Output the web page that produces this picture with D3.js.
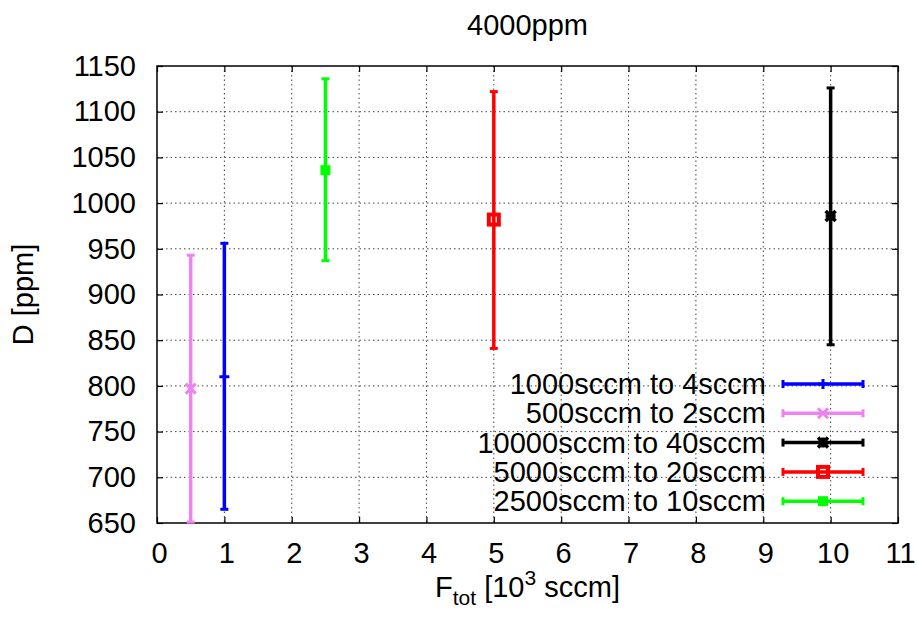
<!DOCTYPE html>
<html>
<head>
<meta charset="utf-8">
<script src="https://cdn.jsdelivr.net/npm/d3@7/dist/d3.min.js"></script>
<style>
  html, body { margin: 0; padding: 0; background: #fff; }
  svg { display: block; font-family: "Liberation Sans", Arial, sans-serif; }
</style>
</head>
<body>
<svg id="chart" width="917" height="622"></svg>
<script>
// ---- data ----
const seriesNames = ["1000sccm to 4sccm", "500sccm to 2sccm", "10000sccm to 40sccm", "5000sccm to 20sccm", "2500sccm to 10sccm"];
const seriesColors = ["#0000ff", "#ee82ee", "#000000", "#ff0000", "#00ff00"];
const seriesMarkers = ["plus", "cross", "star", "box", "filledbox"];
const xValues = [1, 0.5, 10, 5, 2.5];          // F_tot [10^3 sccm]
const yValues = [810, 797, 986, 982, 1036];     // D [ppm]
const yLow    = [665, 651, 845, 841, 937];
const yHigh   = [956, 943, 1126, 1122, 1136];
const xTicks = [0, 1, 2, 3, 4, 5, 6, 7, 8, 9, 10, 11];
const yTicks = [650, 700, 750, 800, 850, 900, 950, 1000, 1050, 1100, 1150];
const titleText = "4000ppm";

// ---- layout ----
const svg = d3.select("#chart");
const L = 157, R = 898, T = 66, B = 523;
const x = d3.scaleLinear().domain([0, 11]).range([L, R]);
const y = d3.scaleLinear().domain([650, 1150]).range([B, T]);
const FS = 29;

// grid
const grid = svg.append("g");
grid.selectAll("line.gx").data(xTicks.slice(1, -1)).join("line")
  .attr("x1", d => x(d)).attr("x2", d => x(d)).attr("y1", T).attr("y2", B)
  .attr("stroke", "#444").attr("stroke-width", 1).attr("stroke-dasharray", "1.5,3");
grid.selectAll("line.gy").data(yTicks.slice(1, -1)).join("line")
  .attr("x1", L).attr("x2", R).attr("y1", d => y(d)).attr("y2", d => y(d))
  .attr("stroke", "#444").attr("stroke-width", 1).attr("stroke-dasharray", "1.5,3");

// axes
function styleAxis(g) {
  g.select(".domain").remove();
  g.selectAll(".tick line").attr("stroke", "#000").attr("stroke-width", 1.2);
  g.selectAll(".tick text").attr("font-size", FS).attr("fill", "#000")
    .attr("font-family", "'Liberation Sans', Arial, sans-serif");
}
svg.append("g").attr("transform", `translate(0,${B})`)
  .call(d3.axisBottom(x).tickValues(xTicks).tickSizeInner(-6).tickSizeOuter(0).tickPadding(19).tickFormat(d3.format("d")))
  .call(styleAxis)
  .call(g => g.selectAll(".tick text").attr("dx", 2));
svg.append("g").attr("transform", `translate(0,${T})`)
  .call(d3.axisTop(x).tickValues(xTicks).tickSizeInner(-6).tickSizeOuter(0).tickFormat(""))
  .call(styleAxis);
svg.append("g").attr("transform", `translate(${L},0)`)
  .call(d3.axisLeft(y).tickValues(yTicks).tickSizeInner(-6).tickSizeOuter(0).tickPadding(21).tickFormat(d3.format("d")))
  .call(styleAxis);
svg.append("g").attr("transform", `translate(${R},0)`)
  .call(d3.axisRight(y).tickValues(yTicks).tickSizeInner(-6).tickSizeOuter(0).tickFormat(""))
  .call(styleAxis);

// border
svg.append("rect").attr("x", L).attr("y", T).attr("width", R - L).attr("height", B - T)
  .attr("fill", "none").attr("stroke", "#000").attr("stroke-width", 1.5);

// markers
function drawMarker(g, type, cx, cy, color) {
  const s = 5;
  if (type === "plus") {
    g.append("path").attr("d", `M${cx - s},${cy}H${cx + s}M${cx},${cy - s}V${cy + s}`)
      .attr("stroke", color).attr("stroke-width", 3).attr("fill", "none");
  } else if (type === "cross") {
    g.append("path").attr("d", `M${cx - s},${cy - s}L${cx + s},${cy + s}M${cx - s},${cy + s}L${cx + s},${cy - s}`)
      .attr("stroke", color).attr("stroke-width", 3).attr("fill", "none");
  } else if (type === "star") {
    g.append("path").attr("d", `M${cx - s},${cy}H${cx + s}M${cx},${cy - s}V${cy + s}M${cx - s},${cy - s}L${cx + s},${cy + s}M${cx - s},${cy + s}L${cx + s},${cy - s}`)
      .attr("stroke", color).attr("stroke-width", 3.5).attr("fill", "none");
  } else if (type === "box") {
    g.append("rect").attr("x", cx - 5).attr("y", cy - 5).attr("width", 10).attr("height", 10)
      .attr("stroke", color).attr("stroke-width", 4).attr("fill", "none");
  } else if (type === "filledbox") {
    g.append("rect").attr("x", cx - 5).attr("y", cy - 5).attr("width", 10).attr("height", 10)
      .attr("fill", color);
  }
}

// error bars
const data = seriesNames.map((n, i) => ({ name: n, color: seriesColors[i], marker: seriesMarkers[i],
  x: xValues[i], y: yValues[i], lo: yLow[i], hi: yHigh[i] }));
const marks = svg.append("g");
const cap = 4;
data.forEach(d => {
  const g = marks.append("g");
  const px = x(d.x);
  g.append("line").attr("x1", px).attr("x2", px).attr("y1", y(d.lo)).attr("y2", y(d.hi))
    .attr("stroke", d.color).attr("stroke-width", 3.5);
  [d.lo, d.hi].forEach(v => {
    g.append("line").attr("x1", px - cap).attr("x2", px + cap).attr("y1", y(v)).attr("y2", y(v))
      .attr("stroke", d.color).attr("stroke-width", 3);
  });
  drawMarker(g, d.marker, px, y(d.y), d.color);
});

// legend
const leg = svg.append("g");
const legTextX = 766, legX1 = 783, legX2 = 863, legY0 = 384, legDY = 29.3;
data.forEach((d, i) => {
  const cy = legY0 + i * legDY;
  leg.append("text").attr("x", legTextX).attr("y", cy + 10).attr("text-anchor", "end")
    .attr("font-size", FS).attr("fill", "#000").text(d.name);
  leg.append("line").attr("x1", legX1).attr("x2", legX2).attr("y1", cy).attr("y2", cy)
    .attr("stroke", d.color).attr("stroke-width", 3.5);
  [legX1, legX2].forEach(xx => {
    leg.append("line").attr("x1", xx).attr("x2", xx).attr("y1", cy - cap).attr("y2", cy + cap)
      .attr("stroke", d.color).attr("stroke-width", 3);
  });
  drawMarker(leg, d.marker, (legX1 + legX2) / 2, cy, d.color);
});

// title
svg.append("text").attr("x", (L + R) / 2).attr("y", 35).attr("text-anchor", "middle")
  .attr("font-size", FS).attr("fill", "#000").text(titleText);

// x label
const xl = svg.append("text").attr("x", (L + R) / 2).attr("y", 597).attr("text-anchor", "middle")
  .attr("font-size", FS).attr("fill", "#000");
xl.append("tspan").text("F");
xl.append("tspan").attr("font-size", 21).attr("dy", 8).text("tot");
xl.append("tspan").attr("dy", -8).text(" [10");
xl.append("tspan").attr("font-size", 21).attr("dy", -12).text("3");
xl.append("tspan").attr("dy", 12).text(" sccm]");

// y label
svg.append("text").attr("transform", `translate(33,${(T + B) / 2}) rotate(-90)`)
  .attr("text-anchor", "middle").attr("font-size", FS).attr("fill", "#000").text("D [ppm]");
</script>
</body>
</html>
